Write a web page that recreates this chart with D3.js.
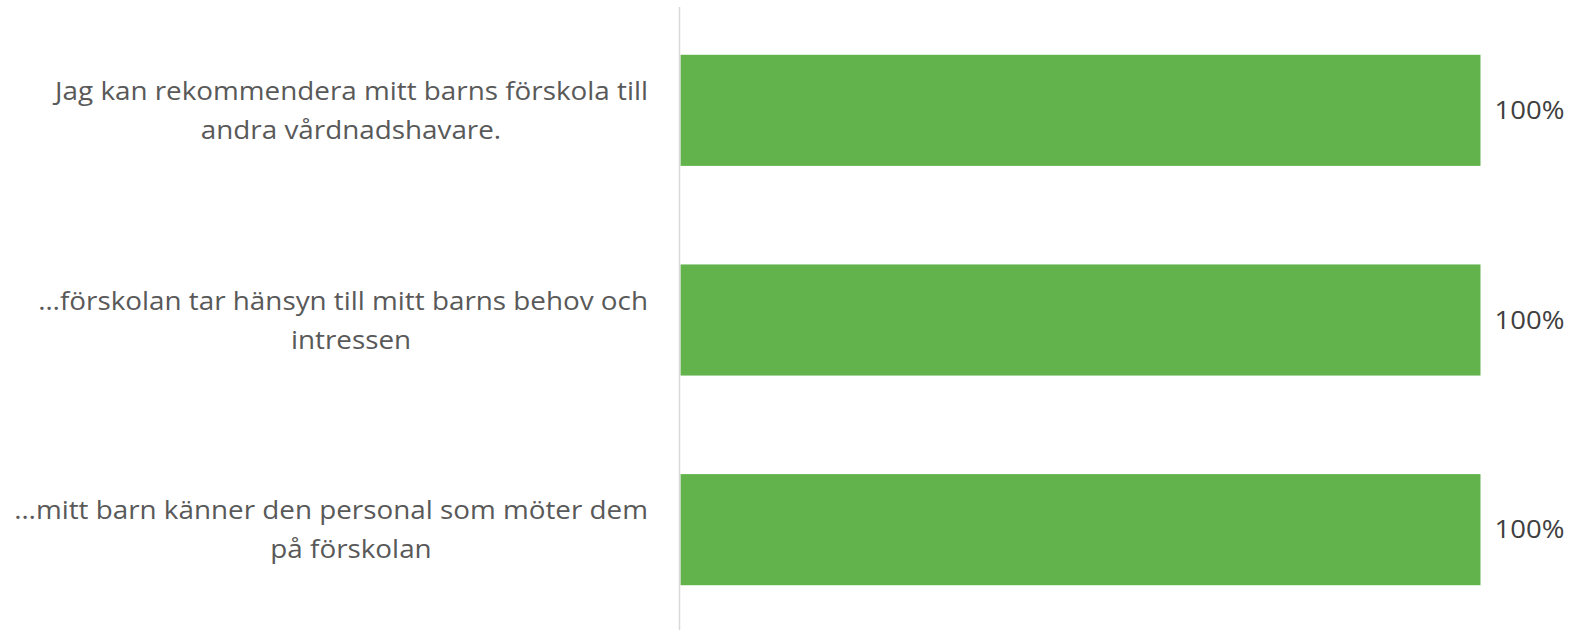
<!DOCTYPE html>
<html>
<head>
<meta charset="utf-8">
<script src="https://cdn.jsdelivr.net/npm/d3@7"></script>
<style>
  html, body { margin: 0; padding: 0; background: #ffffff; }
  svg { display: block; }
</style>
</head>
<body>
<svg id="chart" width="1569" height="630"></svg>
<script>
// ---- data ----
const categories = [
  ["Jag kan rekommendera mitt barns förskola till", "andra vårdnadshavare."],
  ["…förskolan tar hänsyn till mitt barns behov och", "intressen"],
  ["…mitt barn känner den personal som möter dem", "på förskolan"]
];
const values = [1.0, 1.0, 1.0];
const valueLabels = ["100%", "100%", "100%"];

// ---- layout ----
const svg = d3.select("#chart");
const fontFamily = "'Open Sans', 'Noto Sans', sans-serif";

const y = d3.scaleBand()
  .domain(d3.range(categories.length))
  .range([5.5, 634.5])
  .paddingInner(0.47)
  .paddingOuter(0.235);

const x = d3.scaleLinear().domain([0, 1]).range([680.5, 1480.5]);

// bars
svg.append("g").selectAll("rect")
  .data(values)
  .join("rect")
  .attr("x", x(0))
  .attr("y", (d, i) => y(i))
  .attr("width", d => x(d) - x(0))
  .attr("height", y.bandwidth())
  .attr("fill", "#63b34c");

// axis line
const yAxis = d3.axisLeft(y).tickSize(0).tickFormat("");
const ag = svg.append("g").attr("transform", `translate(${x(0) - 1},0)`).call(yAxis);
ag.select(".domain").attr("d", "M0,7V630").attr("stroke", "#d9d9d9").attr("stroke-width", 1.5);

// horizontal stretch to mimic narrow-ish Calibri metrics
function stretch(sel, k) {
  sel.each(function() {
    const w = this.getComputedTextLength();
    d3.select(this).attr("textLength", w * k).attr("lengthAdjust", "spacingAndGlyphs");
  });
}

// value labels
const vl = svg.append("g").selectAll("text")
  .data(values)
  .join("text")
  .attr("x", d => x(d) + 14)
  .attr("y", (d, i) => y(i) + y.bandwidth() / 2)
  .attr("dy", "0.35em")
  .attr("font-family", fontFamily)
  .attr("font-size", 25)
  .attr("fill", "#404040")
  .text((d, i) => valueLabels[i]);
stretch(vl, 1.1);

// category labels
const lineH = 39;
const catG = svg.append("g");
categories.forEach((lines, i) => {
  const cy = y(i) + y.bandwidth() / 2;
  const n = lines.length;
  lines.forEach((ln, j) => {
    const ty = cy + (j - (n - 1) / 2) * lineH;
    const t = catG.append("text")
      .attr("y", ty)
      .attr("dy", "0.35em")
      .attr("font-family", fontFamily)
      .attr("font-size", 26)
      .attr("fill", "#595959")
      .text(ln);
    if (j === 0) {
      t.attr("x", 648).attr("text-anchor", "end");
    } else {
      t.attr("x", 351).attr("text-anchor", "middle");
    }
    stretch(t, 1.07);
  });
});
</script>
</body>
</html>
